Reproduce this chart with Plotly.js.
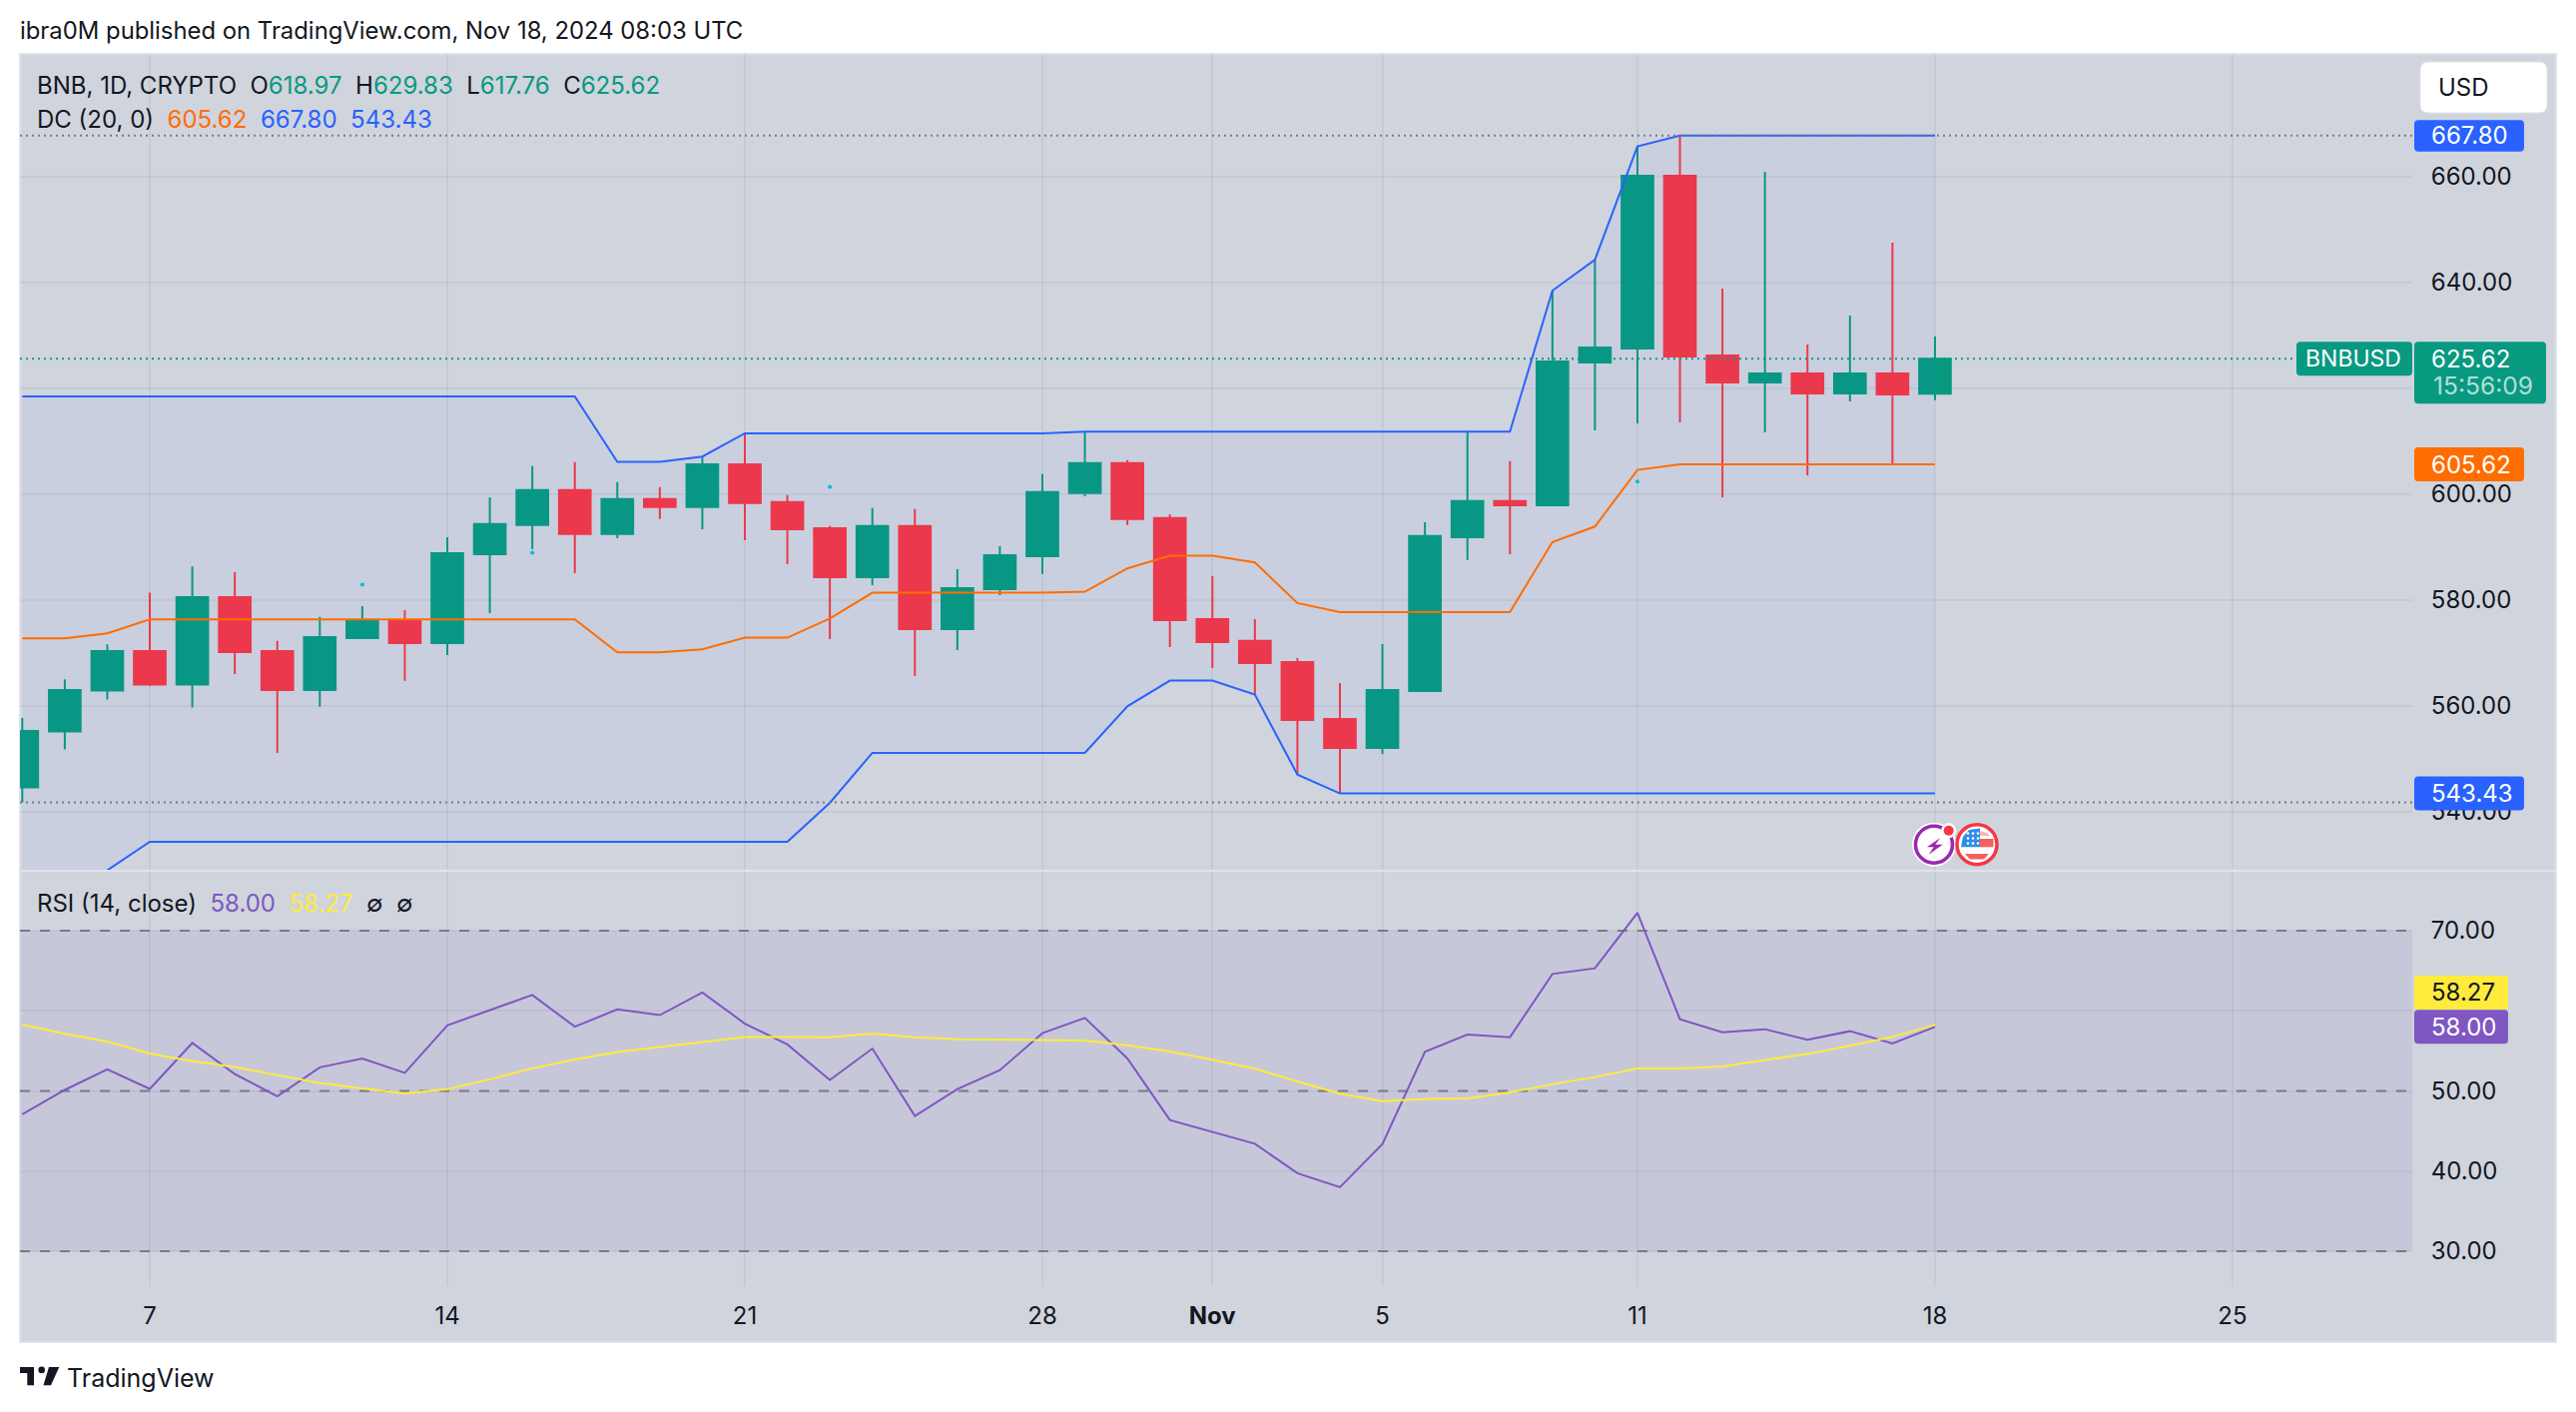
<!DOCTYPE html>
<html>
<head>
<meta charset="utf-8">
<script src="https://cdn.plot.ly/plotly-3.0.1.min.js"></script>
<style>html,body{margin:0;padding:0;background:#fff}#chart{width:2580px;height:1414px}</style>
</head>
<body>
<div id="chart"></div>
<script>
const dates = ["2024-10-04","2024-10-05","2024-10-06","2024-10-07","2024-10-08","2024-10-09","2024-10-10","2024-10-11","2024-10-12","2024-10-13","2024-10-14","2024-10-15","2024-10-16","2024-10-17","2024-10-18","2024-10-19","2024-10-20","2024-10-21","2024-10-22","2024-10-23","2024-10-24","2024-10-25","2024-10-26","2024-10-27","2024-10-28","2024-10-29","2024-10-30","2024-10-31","2024-11-01","2024-11-02","2024-11-03","2024-11-04","2024-11-05","2024-11-06","2024-11-07","2024-11-08","2024-11-09","2024-11-10","2024-11-11","2024-11-12","2024-11-13","2024-11-14","2024-11-15","2024-11-16","2024-11-17","2024-11-18"];
const open = [544.56,555.13,562.87,570.36,564.0,580.55,570.36,563.0,572.81,576.2,571.87,588.67,594.15,600.76,592.45,599.06,597.55,605.66,598.49,593.58,584.33,593.96,574.51,582.06,588.29,600.19,605.85,595.47,576.4,572.25,568.28,557.52,552.05,562.81,591.88,598.68,597.88,624.88,627.53,660.19,626.2,621.11,622.81,619.03,622.81,618.97];
const high = [557.7,565.0,571.6,581.4,586.34,585.27,572.25,576.78,578.85,578.1,591.88,599.43,605.29,606.04,602.27,601.32,607.05,611.5,599.81,593.96,597.36,597.17,585.84,590.18,603.78,611.83,606.42,596.22,584.52,576.4,569.04,564.32,571.68,594.71,611.83,606.23,638.48,644.33,665.73,667.8,638.85,660.94,628.28,633.76,647.54,629.83];
const low = [541.72,551.73,561.2,563.75,559.66,566.0,551.1,559.8,572.81,564.7,569.6,577.53,589.6,585.08,591.69,595.28,593.39,591.3,586.78,572.62,582.82,565.64,570.55,580.93,584.9,599.62,594.15,571.11,567.15,562.05,546.95,543.43,550.91,562.81,587.54,588.67,597.88,612.04,613.37,613.56,599.4,611.67,603.55,617.52,605.44,617.76];
const close = [555.25,563.0,570.36,564.0,580.55,570.17,563.0,573.0,576.2,571.87,588.86,594.34,600.76,592.45,599.06,597.55,605.66,598.3,593.39,584.33,593.96,574.51,582.25,588.48,600.38,605.85,595.28,576.21,572.06,568.09,557.33,552.05,563.0,592.07,598.68,597.92,625.07,627.72,660.19,626.02,621.11,622.81,619.03,622.81,618.84,625.62];
const dcUpper = [618.47,618.47,618.47,618.47,618.47,618.47,618.47,618.47,618.47,618.47,618.47,618.47,618.47,618.47,606.1,606.1,607.1,611.5,611.5,611.5,611.5,611.5,611.5,611.5,611.5,611.83,611.83,611.83,611.83,611.83,611.83,611.83,611.83,611.83,611.83,611.83,638.48,644.33,665.73,667.8,667.8,667.8,667.8,667.8,667.8,667.8];
const dcBasis = [572.75,572.75,573.7,576.34,576.34,576.34,576.34,576.34,576.34,576.34,576.34,576.34,576.34,576.34,570.1,570.1,570.67,572.88,572.88,576.5,581.37,581.37,581.37,581.37,581.37,581.56,585.97,588.36,588.36,587.1,579.42,577.72,577.72,577.72,577.72,577.72,590.96,593.88,604.58,605.62,605.62,605.62,605.62,605.62,605.62,605.62];
const dcLower = [515,520,528.9,534.3,534.3,534.3,534.3,534.3,534.3,534.3,534.3,534.3,534.3,534.3,534.3,534.3,534.3,534.3,534.3,541.66,551.1,551.1,551.1,551.1,551.1,551.1,559.9,564.76,564.76,562.11,547.0,543.43,543.43,543.43,543.43,543.43,543.43,543.43,543.43,543.43,543.43,543.43,543.43,543.43,543.43,543.43];
const rsi = [47.1,50.13,52.69,50.26,55.99,52.11,49.34,52.95,54.05,52.25,58.19,60.04,61.98,58.02,60.18,59.47,62.29,58.41,55.81,51.37,55.29,46.87,50.23,52.6,57.21,59.12,54.05,46.37,44.92,43.42,39.73,37.98,43.38,54.88,57.04,56.71,64.6,65.31,72.24,58.95,57.33,57.71,56.38,57.46,55.92,58.0];
const rsiMa = [58.28,57.14,56.17,54.67,53.7,53.0,51.98,51.01,50.31,49.69,50.22,51.45,52.82,53.92,54.85,55.51,56.17,56.74,56.74,56.7,57.18,56.71,56.46,56.42,56.34,56.3,55.71,54.93,53.89,52.77,51.19,49.65,48.74,48.99,49.07,49.82,50.86,51.73,52.81,52.81,53.06,53.85,54.63,55.63,56.75,58.27];
const dotDates = ["2024-10-12","2024-10-16","2024-10-23","2024-11-11"];
const dotValues = [582.88,588.92,601.38,602.4];
const highLine = 667.8, lastLine = 625.62, lowLine = 541.72;
const priceTicks = [540,560,580,600,620,640,660];
const priceTickText = ["540.00","560.00","580.00","600.00","","640.00","660.00"];
const rsiTicks = [30,40,50,60,70];
const rsiTickText = ["30.00","40.00","50.00","","70.00"];
const rsiBands = [30,50,70];
const timeTicks = ["2024-10-07","2024-10-14","2024-10-21","2024-10-28","2024-11-01","2024-11-05","2024-11-11","2024-11-18","2024-11-25"];
const timeTickText = ["7","14","21","28","<b>Nov</b>","5","11","18","25"];

const UP = "#089981", DOWN = "#f43745", BLUE = "#2962ff", ORANGE = "#ff6d00", PURPLE = "#7e57c2", YELLOW = "#ffeb3b", INK = "#131722", GREY = "#787b86";
const FONT = "Inter, 'Noto Sans', sans-serif";
const FS = 24;

const L = 20, R = 2416, T = 54, B = 1288, SEP = 872, PANEL_R = 2560, PANEL_B = 1344;
const xRange = ["2024-10-03 22:42", "2024-11-29 05:30"];
const priceRange = [528.81, 683.22], rsiRange = [25.64, 77.48];
const fx = px => (px - L) / (R - L);
const fy = py => (B - py) / (B - T);
const priceY = v => SEP - (v - priceRange[0]) / (priceRange[1] - priceRange[0]) * (SEP - T);
const rsiY = v => B - (v - rsiRange[0]) / (rsiRange[1] - rsiRange[0]) * (B - SEP);

function roundRect(x0, y0, x1, y1, r) {
  const p = (x, y) => fx(x).toFixed(6) + "," + fy(y).toFixed(6);
  return "M" + p(x0 + r, y0) + " L" + p(x1 - r, y0) + " Q" + p(x1, y0) + " " + p(x1, y0 + r) +
    " L" + p(x1, y1 - r) + " Q" + p(x1, y1) + " " + p(x1 - r, y1) + " L" + p(x0 + r, y1) +
    " Q" + p(x0, y1) + " " + p(x0, y1 - r) + " L" + p(x0, y0 + r) + " Q" + p(x0, y0) + " " + p(x0 + r, y0) + " Z";
}
function poly(pts) {
  return "M" + pts.map(q => fx(q[0]).toFixed(6) + "," + fy(q[1]).toFixed(6)).join(" L") + " Z";
}
const pShape = (path, fill, extra) => Object.assign({type:"path", xref:"paper", yref:"paper", path, fillcolor:fill, line:{width:0}, layer:"above"}, extra || {});
const circ = (cx, cy, r, fill, stroke, w) => ({type:"circle", xref:"paper", yref:"paper", x0:fx(cx-r), x1:fx(cx+r), y0:fy(cy+r), y1:fy(cy-r), fillcolor:fill, line:{color:stroke||fill, width:w||0}, layer:"above"});
const tag = (x0, y0, x1, y1, fill) => pShape(roundRect(x0, y0, x1, y1, 4), fill);

const text = (px, py, t, opts) => Object.assign({xref:"paper", yref:"paper", x:fx(px), y:fy(py), text:t, showarrow:false, xanchor:"left", yanchor:"middle", borderpad:0, font:{family:FONT, size:FS, color:INK}}, opts || {});
const col = (c, t) => '<span style="color:' + c + '">' + t + '</span>';

const traces = [
  {type:"scatter", mode:"lines", x:dates, y:dcLower, xaxis:"x", yaxis:"y", line:{color:BLUE, width:2}, hoverinfo:"skip", showlegend:false},
  {type:"scatter", mode:"lines", x:dates, y:dcUpper, xaxis:"x", yaxis:"y", line:{color:BLUE, width:2}, fill:"tonexty", fillcolor:"rgba(41,98,255,0.04)", hoverinfo:"skip", showlegend:false},
  {type:"scatter", mode:"lines", x:dates, y:dcBasis, xaxis:"x", yaxis:"y", line:{color:ORANGE, width:2}, hoverinfo:"skip", showlegend:false},
  {type:"scatter", mode:"lines", x:xRange, y:[highLine, highLine], xaxis:"x", yaxis:"y", line:{color:GREY, width:2, dash:"2px,4px"}, hoverinfo:"skip", showlegend:false},
  {type:"scatter", mode:"lines", x:xRange, y:[lowLine, lowLine], xaxis:"x", yaxis:"y", line:{color:GREY, width:2, dash:"2px,4px"}, hoverinfo:"skip", showlegend:false},
  {type:"scatter", mode:"lines", x:xRange, y:[lastLine, lastLine], xaxis:"x", yaxis:"y", line:{color:UP, width:2, dash:"2px,4px"}, hoverinfo:"skip", showlegend:false},
  {type:"candlestick", x:dates, open:open, high:high, low:low, close:close, xaxis:"x", yaxis:"y", whiskerwidth:0,
    increasing:{line:{color:UP, width:2}, fillcolor:UP}, decreasing:{line:{color:DOWN, width:2}, fillcolor:DOWN}, hoverinfo:"skip", showlegend:false},
  {type:"scatter", mode:"markers", x:dotDates, y:dotValues, xaxis:"x", yaxis:"y", marker:{color:"#00bcd4", size:4}, hoverinfo:"skip", showlegend:false},
  {type:"scatter", mode:"lines", x:dates, y:rsi, xaxis:"x", yaxis:"y2", line:{color:PURPLE, width:2}, hoverinfo:"skip", showlegend:false},
  {type:"scatter", mode:"lines", x:dates, y:rsiMa, xaxis:"x", yaxis:"y2", line:{color:YELLOW, width:2}, hoverinfo:"skip", showlegend:false}
];

const shapes = [
  {type:"rect", xref:"paper", yref:"paper", x0:fx(L), x1:fx(PANEL_R), y0:fy(PANEL_B), y1:fy(T), fillcolor:"#d0d4dd", line:{color:"#e0e3eb", width:2}, layer:"below"},
  {type:"rect", xref:"x", yref:"y2", x0:xRange[0], x1:xRange[1], y0:30, y1:70, fillcolor:"rgba(126,87,194,0.1)", line:{width:0}, layer:"between"},
  {type:"line", xref:"paper", yref:"paper", x0:fx(L), x1:fx(PANEL_R), y0:fy(SEP), y1:fy(SEP), line:{color:"#e0e3eb", width:2}, layer:"above"}
];
rsiBands.forEach(v => shapes.push({type:"line", xref:"x", yref:"y2", x0:xRange[0], x1:xRange[1], y0:v, y1:v, line:{color:GREY, width:2, dash:"10px,10px"}, layer:"between"}));

// value tags on the price scale; the two RSI tags stack, with the MA tag pushed above the RSI tag
const rsiTagY = rsiY(58.0), maTagY = rsiTagY - 34.4;
shapes.push(pShape(roundRect(2424, 62, 2551, 113, 8), "#ffffff", {line:{color:"#e0e3eb", width:1}}));
shapes.push(tag(2418, priceY(667.8)-15.5, 2528, priceY(667.8)+16, BLUE));
shapes.push(tag(2418, priceY(605.62)-17, 2528, priceY(605.62)+17, ORANGE));
shapes.push(tag(2418, priceY(543.43)-17, 2528, priceY(543.43)+17, BLUE));
shapes.push(tag(2418, priceY(625.62)-17, 2550, priceY(625.62)+45, UP));
shapes.push(tag(2300, priceY(625.62)-17, 2416, priceY(625.62)+17, UP));
shapes.push(tag(2418, maTagY-17, 2512, maTagY+17, YELLOW));
shapes.push(tag(2418, rsiTagY-17, 2512, rsiTagY+17, PURPLE));

// event icons
shapes.push(circ(1937, 845.7, 22, "#ffffff"));
shapes.push(circ(1937, 845.7, 18.5, "#ffffff", "#9c27b0", 3.5));
shapes.push(pShape(poly([[1943.3,839],[1930,848.3],[1936.7,848.3],[1931.7,855.7],[1945.7,845.7],[1938.3,845.7]]), "#9c27b0"));
shapes.push(circ(1951.7, 831.7, 7.5, "#ffffff"));
shapes.push(circ(1951.7, 831.7, 5, DOWN));
shapes.push(circ(1980, 845.7, 20, "#ffffff", DOWN, 3.5));
shapes.push(pShape(poly([[1983,840],[1996.5,840],[1996.5,848.3],[1983,848.3]]), "#f4605f"));
shapes.push(pShape(poly([[1968,855],[1992,855],[1987,860.5],[1973,860.5]]), "#f4605f"));
shapes.push(pShape(poly([[1983,832],[1990,834],[1994,837],[1983,837]]), "#f7b6b6"));
shapes.push(pShape(poly([[1972,831],[1983,829.5],[1983,848.3],[1964,848.3],[1966,838]]), "#2f8fe8"));
[834.5,839.5,844.5].forEach(sy => [1971,1976,1981].forEach(sx => shapes.push(circ(sx, sy, 1.3, "#ffffff"))));

// TradingView logo
shapes.push(pShape(poly([[20,1369],[34,1369],[34,1387.3],[27.3,1387.3],[27.3,1375],[20,1375]]), INK));
shapes.push(circ(41.7, 1371.9, 3.3, INK));
shapes.push(pShape(poly([[49,1369],[59.3,1369],[51,1387.3],[43.5,1387.3]]), INK));

const annotations = [
  text(19, 31, "ibra0M published on TradingView.com, Nov 18, 2024 08:03 UTC", {font:{family:FONT, size:23.85, color:INK}}),
  text(36, 86, "BNB, 1D, CRYPTO&nbsp;&nbsp;O" + col(UP,"618.97") + "&nbsp;&nbsp;H" + col(UP,"629.83") + "&nbsp;&nbsp;L" + col(UP,"617.76") + "&nbsp;&nbsp;C" + col(UP,"625.62")),
  text(36, 119, "DC (20, 0)&nbsp;&nbsp;" + col(ORANGE,"605.62") + "&nbsp;&nbsp;" + col(BLUE,"667.80") + "&nbsp;&nbsp;" + col(BLUE,"543.43")),
  text(36, 905, "RSI (14, close)&nbsp;&nbsp;" + col(PURPLE,"58.00") + "&nbsp;&nbsp;" + col(YELLOW,"58.27") + "&nbsp;&nbsp;∅&nbsp;&nbsp;∅"),
  text(2441, 88, "USD"),
  text(2434, priceY(667.8), "667.80", {font:{family:FONT, size:FS, color:"#fff"}}),
  text(2434, priceY(605.62), "605.62", {font:{family:FONT, size:FS, color:"#fff"}}),
  text(2434, priceY(543.43), "543.43", {font:{family:FONT, size:FS, color:"#fff"}}),
  text(2434, priceY(625.62), "625.62", {font:{family:FONT, size:FS, color:"#fff"}}),
  text(2436, priceY(625.62)+27, "15:56:09", {font:{family:FONT, size:24.6, color:"rgba(255,255,255,0.7)"}}),
  text(2308, priceY(625.62), "BNBUSD", {font:{family:FONT, size:23, color:"#fff"}}),
  text(2434, maTagY, "58.27", {font:{family:FONT, size:FS, color:INK}}),
  text(2434, rsiTagY, "58.00", {font:{family:FONT, size:FS, color:"#fff"}}),
  text(66, 1380, "TradingView", {font:{family:FONT, size:25, color:INK}})
];

const grid = "rgba(42,46,57,0.06)";
const layout = {
  width: 2580, height: 1414,
  margin: {l:L, r:2580-R, t:T, b:1414-B, pad:0},
  paper_bgcolor: "#ffffff", plot_bgcolor: "rgba(0,0,0,0)",
  font: {family: FONT, size: FS, color: INK},
  showlegend: false, hovermode: false,
  boxgap: 0.1, boxgroupgap: 0.173,
  xaxis: {type:"date", range:xRange, anchor:"y2", rangeslider:{visible:false}, tickmode:"array", tickvals:timeTicks, ticktext:timeTickText,
    showgrid:true, gridcolor:grid, gridwidth:2, zeroline:false, showline:false, ticks:"outside", ticklen:8, tickcolor:"rgba(0,0,0,0)", tickfont:{family:FONT, size:FS, color:INK}},
  yaxis: {domain:[(B-SEP)/(B-T),1], range:priceRange, anchor:"x", side:"right", tickmode:"array", tickvals:priceTicks, ticktext:priceTickText,
    showgrid:true, gridcolor:grid, gridwidth:2, zeroline:false, showline:false, ticks:"outside", ticklen:13, tickcolor:"rgba(0,0,0,0)", tickfont:{family:FONT, size:FS, color:INK}},
  yaxis2: {domain:[0,(B-SEP)/(B-T)], range:rsiRange, anchor:"x", side:"right", tickmode:"array", tickvals:rsiTicks, ticktext:rsiTickText,
    showgrid:true, gridcolor:grid, gridwidth:2, zeroline:false, showline:false, ticks:"outside", ticklen:13, tickcolor:"rgba(0,0,0,0)", tickfont:{family:FONT, size:FS, color:INK}},
  shapes, annotations
};
Plotly.newPlot("chart", traces, layout, {staticPlot:true, displayModeBar:false, responsive:false});
</script>
</body>
</html>
